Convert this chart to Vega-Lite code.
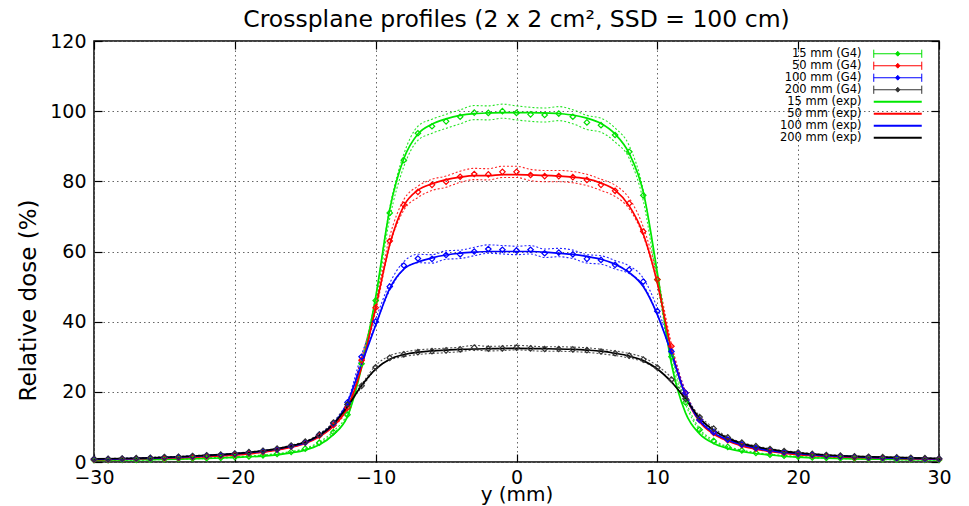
{
"$schema":"https://vega.github.io/schema/vega-lite/v6.json",
"width":845,"height":421,
"autosize":{"type":"none"},
"padding":{"left":94,"top":41,"right":30,"bottom":44},
"background":"white",
"title":{"text":"Crossplane profiles (2 x 2 cm², SSD = 100 cm)","font":"DejaVu Sans","fontSize":23.5,"fontWeight":"normal","color":"black","anchor":"middle","offset":1},
"datasets":{
"g4":[
{"s":"15 mm (G4)","x":-30,"v":0.5,"e":0.1},{"s":"15 mm (G4)","x":-29,"v":0.5,"e":0.1},{"s":"15 mm (G4)","x":-28,"v":0.6,"e":0.1},{"s":"15 mm (G4)","x":-27,"v":0.6,"e":0.1},{"s":"15 mm (G4)","x":-26,"v":0.7,"e":0.1},{"s":"15 mm (G4)","x":-25,"v":0.8,"e":0.1},{"s":"15 mm (G4)","x":-24,"v":0.9,"e":0.1},{"s":"15 mm (G4)","x":-23,"v":1.0,"e":0.1},{"s":"15 mm (G4)","x":-22,"v":1.1,"e":0.1},{"s":"15 mm (G4)","x":-21,"v":1.2,"e":0.1},{"s":"15 mm (G4)","x":-20,"v":1.4,"e":0.1},{"s":"15 mm (G4)","x":-19,"v":1.6,"e":0.1},{"s":"15 mm (G4)","x":-18,"v":1.9,"e":0.1},{"s":"15 mm (G4)","x":-17,"v":2.3,"e":0.1},{"s":"15 mm (G4)","x":-16,"v":2.9,"e":0.1},{"s":"15 mm (G4)","x":-15,"v":3.8,"e":0.1},{"s":"15 mm (G4)","x":-14,"v":5.5,"e":0.2},{"s":"15 mm (G4)","x":-13,"v":8.5,"e":0.3},{"s":"15 mm (G4)","x":-12,"v":13.5,"e":0.5},{"s":"15 mm (G4)","x":-11,"v":28,"e":0.8},{"s":"15 mm (G4)","x":-10,"v":46,"e":1.0},{"s":"15 mm (G4)","x":-9,"v":71,"e":1.5},{"s":"15 mm (G4)","x":-8,"v":86,"e":1.8},{"s":"15 mm (G4)","x":-7,"v":93.7,"e":2},{"s":"15 mm (G4)","x":-6,"v":95.7,"e":2},{"s":"15 mm (G4)","x":-5,"v":97.1,"e":2},{"s":"15 mm (G4)","x":-4,"v":98.4,"e":2},{"s":"15 mm (G4)","x":-3,"v":99.6,"e":2},{"s":"15 mm (G4)","x":-2,"v":99.5,"e":2},{"s":"15 mm (G4)","x":-1,"v":100,"e":2},{"s":"15 mm (G4)","x":0,"v":99.5,"e":2},{"s":"15 mm (G4)","x":1,"v":99.1,"e":2},{"s":"15 mm (G4)","x":2,"v":98.9,"e":2},{"s":"15 mm (G4)","x":3,"v":99.3,"e":2},{"s":"15 mm (G4)","x":4,"v":98.4,"e":2},{"s":"15 mm (G4)","x":5,"v":96.8,"e":2},{"s":"15 mm (G4)","x":6,"v":96.0,"e":2},{"s":"15 mm (G4)","x":7,"v":93.2,"e":2},{"s":"15 mm (G4)","x":8,"v":88.4,"e":1.8},{"s":"15 mm (G4)","x":9,"v":76,"e":1.5},{"s":"15 mm (G4)","x":10,"v":52,"e":1.0},{"s":"15 mm (G4)","x":11,"v":30,"e":0.8},{"s":"15 mm (G4)","x":12,"v":17,"e":0.5},{"s":"15 mm (G4)","x":13,"v":9.2,"e":0.3},{"s":"15 mm (G4)","x":14,"v":6.0,"e":0.2},{"s":"15 mm (G4)","x":15,"v":4.3,"e":0.1},{"s":"15 mm (G4)","x":16,"v":3.3,"e":0.1},{"s":"15 mm (G4)","x":17,"v":2.6,"e":0.1},{"s":"15 mm (G4)","x":18,"v":2.1,"e":0.1},{"s":"15 mm (G4)","x":19,"v":1.8,"e":0.1},{"s":"15 mm (G4)","x":20,"v":1.5,"e":0.1},{"s":"15 mm (G4)","x":21,"v":1.3,"e":0.1},{"s":"15 mm (G4)","x":22,"v":1.2,"e":0.1},{"s":"15 mm (G4)","x":23,"v":1.1,"e":0.1},{"s":"15 mm (G4)","x":24,"v":1.0,"e":0.1},{"s":"15 mm (G4)","x":25,"v":0.9,"e":0.1},{"s":"15 mm (G4)","x":26,"v":0.8,"e":0.1},{"s":"15 mm (G4)","x":27,"v":0.7,"e":0.1},{"s":"15 mm (G4)","x":28,"v":0.7,"e":0.1},{"s":"15 mm (G4)","x":29,"v":0.6,"e":0.1},{"s":"15 mm (G4)","x":30,"v":0.6,"e":0.1},
{"s":"50 mm (G4)","x":-30,"v":0.7,"e":0.1},{"s":"50 mm (G4)","x":-29,"v":0.7,"e":0.1},{"s":"50 mm (G4)","x":-28,"v":0.8,"e":0.1},{"s":"50 mm (G4)","x":-27,"v":0.9,"e":0.1},{"s":"50 mm (G4)","x":-26,"v":1.0,"e":0.1},{"s":"50 mm (G4)","x":-25,"v":1.1,"e":0.1},{"s":"50 mm (G4)","x":-24,"v":1.2,"e":0.1},{"s":"50 mm (G4)","x":-23,"v":1.4,"e":0.1},{"s":"50 mm (G4)","x":-22,"v":1.6,"e":0.1},{"s":"50 mm (G4)","x":-21,"v":1.8,"e":0.1},{"s":"50 mm (G4)","x":-20,"v":2.1,"e":0.1},{"s":"50 mm (G4)","x":-19,"v":2.5,"e":0.1},{"s":"50 mm (G4)","x":-18,"v":2.9,"e":0.1},{"s":"50 mm (G4)","x":-17,"v":3.5,"e":0.1},{"s":"50 mm (G4)","x":-16,"v":4.4,"e":0.1},{"s":"50 mm (G4)","x":-15,"v":5.5,"e":0.1},{"s":"50 mm (G4)","x":-14,"v":7.5,"e":0.2},{"s":"50 mm (G4)","x":-13,"v":10.5,"e":0.3},{"s":"50 mm (G4)","x":-12,"v":15.5,"e":0.4},{"s":"50 mm (G4)","x":-11,"v":29,"e":0.7},{"s":"50 mm (G4)","x":-10,"v":44,"e":1.0},{"s":"50 mm (G4)","x":-9,"v":63,"e":1.3},{"s":"50 mm (G4)","x":-8,"v":73.3,"e":1.5},{"s":"50 mm (G4)","x":-7,"v":77,"e":1.6},{"s":"50 mm (G4)","x":-6,"v":79,"e":1.6},{"s":"50 mm (G4)","x":-5,"v":79.9,"e":1.6},{"s":"50 mm (G4)","x":-4,"v":81.3,"e":1.6},{"s":"50 mm (G4)","x":-3,"v":82.1,"e":1.6},{"s":"50 mm (G4)","x":-2,"v":82,"e":1.6},{"s":"50 mm (G4)","x":-1,"v":82.7,"e":1.6},{"s":"50 mm (G4)","x":0,"v":82.7,"e":1.6},{"s":"50 mm (G4)","x":1,"v":81.8,"e":1.6},{"s":"50 mm (G4)","x":2,"v":81.5,"e":1.6},{"s":"50 mm (G4)","x":3,"v":81.5,"e":1.6},{"s":"50 mm (G4)","x":4,"v":81.2,"e":1.6},{"s":"50 mm (G4)","x":5,"v":80.4,"e":1.6},{"s":"50 mm (G4)","x":6,"v":79,"e":1.6},{"s":"50 mm (G4)","x":7,"v":77.3,"e":1.6},{"s":"50 mm (G4)","x":8,"v":73.7,"e":1.5},{"s":"50 mm (G4)","x":9,"v":65.7,"e":1.3},{"s":"50 mm (G4)","x":10,"v":52,"e":1.0},{"s":"50 mm (G4)","x":11,"v":33,"e":0.7},{"s":"50 mm (G4)","x":12,"v":19.7,"e":0.4},{"s":"50 mm (G4)","x":13,"v":12,"e":0.3},{"s":"50 mm (G4)","x":14,"v":8.3,"e":0.2},{"s":"50 mm (G4)","x":15,"v":6.2,"e":0.1},{"s":"50 mm (G4)","x":16,"v":4.8,"e":0.1},{"s":"50 mm (G4)","x":17,"v":3.8,"e":0.1},{"s":"50 mm (G4)","x":18,"v":3.1,"e":0.1},{"s":"50 mm (G4)","x":19,"v":2.6,"e":0.1},{"s":"50 mm (G4)","x":20,"v":2.2,"e":0.1},{"s":"50 mm (G4)","x":21,"v":1.9,"e":0.1},{"s":"50 mm (G4)","x":22,"v":1.7,"e":0.1},{"s":"50 mm (G4)","x":23,"v":1.5,"e":0.1},{"s":"50 mm (G4)","x":24,"v":1.3,"e":0.1},{"s":"50 mm (G4)","x":25,"v":1.2,"e":0.1},{"s":"50 mm (G4)","x":26,"v":1.1,"e":0.1},{"s":"50 mm (G4)","x":27,"v":1.0,"e":0.1},{"s":"50 mm (G4)","x":28,"v":0.9,"e":0.1},{"s":"50 mm (G4)","x":29,"v":0.8,"e":0.1},{"s":"50 mm (G4)","x":30,"v":0.8,"e":0.1},
{"s":"100 mm (G4)","x":-30,"v":0.8,"e":0.1},{"s":"100 mm (G4)","x":-29,"v":0.8,"e":0.1},{"s":"100 mm (G4)","x":-28,"v":0.9,"e":0.1},{"s":"100 mm (G4)","x":-27,"v":1.0,"e":0.1},{"s":"100 mm (G4)","x":-26,"v":1.1,"e":0.1},{"s":"100 mm (G4)","x":-25,"v":1.3,"e":0.1},{"s":"100 mm (G4)","x":-24,"v":1.4,"e":0.1},{"s":"100 mm (G4)","x":-23,"v":1.6,"e":0.1},{"s":"100 mm (G4)","x":-22,"v":1.8,"e":0.1},{"s":"100 mm (G4)","x":-21,"v":2.0,"e":0.1},{"s":"100 mm (G4)","x":-20,"v":2.3,"e":0.1},{"s":"100 mm (G4)","x":-19,"v":2.7,"e":0.1},{"s":"100 mm (G4)","x":-18,"v":3.1,"e":0.1},{"s":"100 mm (G4)","x":-17,"v":3.6,"e":0.1},{"s":"100 mm (G4)","x":-16,"v":4.5,"e":0.1},{"s":"100 mm (G4)","x":-15,"v":5.6,"e":0.1},{"s":"100 mm (G4)","x":-14,"v":7.8,"e":0.2},{"s":"100 mm (G4)","x":-13,"v":11,"e":0.2},{"s":"100 mm (G4)","x":-12,"v":17,"e":0.3},{"s":"100 mm (G4)","x":-11,"v":30,"e":0.6},{"s":"100 mm (G4)","x":-10,"v":40,"e":0.8},{"s":"100 mm (G4)","x":-9,"v":50,"e":1.0},{"s":"100 mm (G4)","x":-8,"v":56,"e":1.1},{"s":"100 mm (G4)","x":-7,"v":58,"e":1.2},{"s":"100 mm (G4)","x":-6,"v":57.9,"e":1.2},{"s":"100 mm (G4)","x":-5,"v":59,"e":1.2},{"s":"100 mm (G4)","x":-4,"v":59.2,"e":1.2},{"s":"100 mm (G4)","x":-3,"v":60,"e":1.2},{"s":"100 mm (G4)","x":-2,"v":60.7,"e":1.2},{"s":"100 mm (G4)","x":-1,"v":60.5,"e":1.2},{"s":"100 mm (G4)","x":0,"v":60.3,"e":1.2},{"s":"100 mm (G4)","x":1,"v":60.5,"e":1.2},{"s":"100 mm (G4)","x":2,"v":59.5,"e":1.2},{"s":"100 mm (G4)","x":3,"v":59.7,"e":1.2},{"s":"100 mm (G4)","x":4,"v":59.2,"e":1.2},{"s":"100 mm (G4)","x":5,"v":57.9,"e":1.2},{"s":"100 mm (G4)","x":6,"v":57.6,"e":1.2},{"s":"100 mm (G4)","x":7,"v":56.2,"e":1.2},{"s":"100 mm (G4)","x":8,"v":54.8,"e":1.1},{"s":"100 mm (G4)","x":9,"v":51.4,"e":1.0},{"s":"100 mm (G4)","x":10,"v":43,"e":0.9},{"s":"100 mm (G4)","x":11,"v":31.5,"e":0.6},{"s":"100 mm (G4)","x":12,"v":19.7,"e":0.4},{"s":"100 mm (G4)","x":13,"v":12,"e":0.2},{"s":"100 mm (G4)","x":14,"v":8.5,"e":0.2},{"s":"100 mm (G4)","x":15,"v":6.4,"e":0.1},{"s":"100 mm (G4)","x":16,"v":5.0,"e":0.1},{"s":"100 mm (G4)","x":17,"v":4.0,"e":0.1},{"s":"100 mm (G4)","x":18,"v":3.3,"e":0.1},{"s":"100 mm (G4)","x":19,"v":2.8,"e":0.1},{"s":"100 mm (G4)","x":20,"v":2.4,"e":0.1},{"s":"100 mm (G4)","x":21,"v":2.1,"e":0.1},{"s":"100 mm (G4)","x":22,"v":1.8,"e":0.1},{"s":"100 mm (G4)","x":23,"v":1.6,"e":0.1},{"s":"100 mm (G4)","x":24,"v":1.5,"e":0.1},{"s":"100 mm (G4)","x":25,"v":1.3,"e":0.1},{"s":"100 mm (G4)","x":26,"v":1.2,"e":0.1},{"s":"100 mm (G4)","x":27,"v":1.1,"e":0.1},{"s":"100 mm (G4)","x":28,"v":1.0,"e":0.1},{"s":"100 mm (G4)","x":29,"v":0.9,"e":0.1},{"s":"100 mm (G4)","x":30,"v":0.9,"e":0.1},
{"s":"200 mm (G4)","x":-30,"v":0.9,"e":0.1},{"s":"200 mm (G4)","x":-29,"v":0.9,"e":0.1},{"s":"200 mm (G4)","x":-28,"v":1.0,"e":0.1},{"s":"200 mm (G4)","x":-27,"v":1.1,"e":0.1},{"s":"200 mm (G4)","x":-26,"v":1.2,"e":0.1},{"s":"200 mm (G4)","x":-25,"v":1.4,"e":0.1},{"s":"200 mm (G4)","x":-24,"v":1.5,"e":0.1},{"s":"200 mm (G4)","x":-23,"v":1.7,"e":0.1},{"s":"200 mm (G4)","x":-22,"v":1.9,"e":0.1},{"s":"200 mm (G4)","x":-21,"v":2.1,"e":0.1},{"s":"200 mm (G4)","x":-20,"v":2.4,"e":0.1},{"s":"200 mm (G4)","x":-19,"v":2.8,"e":0.1},{"s":"200 mm (G4)","x":-18,"v":3.2,"e":0.1},{"s":"200 mm (G4)","x":-17,"v":3.8,"e":0.1},{"s":"200 mm (G4)","x":-16,"v":4.7,"e":0.1},{"s":"200 mm (G4)","x":-15,"v":5.8,"e":0.1},{"s":"200 mm (G4)","x":-14,"v":7.8,"e":0.2},{"s":"200 mm (G4)","x":-13,"v":11.2,"e":0.2},{"s":"200 mm (G4)","x":-12,"v":16.4,"e":0.3},{"s":"200 mm (G4)","x":-11,"v":21.7,"e":0.4},{"s":"200 mm (G4)","x":-10,"v":27,"e":0.5},{"s":"200 mm (G4)","x":-9,"v":29.7,"e":0.6},{"s":"200 mm (G4)","x":-8,"v":30.7,"e":0.65},{"s":"200 mm (G4)","x":-7,"v":31.3,"e":0.65},{"s":"200 mm (G4)","x":-6,"v":31.6,"e":0.65},{"s":"200 mm (G4)","x":-5,"v":31.8,"e":0.65},{"s":"200 mm (G4)","x":-4,"v":32.1,"e":0.65},{"s":"200 mm (G4)","x":-3,"v":32.6,"e":0.65},{"s":"200 mm (G4)","x":-2,"v":32.3,"e":0.65},{"s":"200 mm (G4)","x":-1,"v":32.4,"e":0.65},{"s":"200 mm (G4)","x":0,"v":32.6,"e":0.65},{"s":"200 mm (G4)","x":1,"v":32.4,"e":0.65},{"s":"200 mm (G4)","x":2,"v":32.2,"e":0.65},{"s":"200 mm (G4)","x":3,"v":32.2,"e":0.65},{"s":"200 mm (G4)","x":4,"v":32.1,"e":0.65},{"s":"200 mm (G4)","x":5,"v":31.9,"e":0.65},{"s":"200 mm (G4)","x":6,"v":31.5,"e":0.65},{"s":"200 mm (G4)","x":7,"v":31.0,"e":0.65},{"s":"200 mm (G4)","x":8,"v":30.3,"e":0.65},{"s":"200 mm (G4)","x":9,"v":29.2,"e":0.6},{"s":"200 mm (G4)","x":10,"v":26.9,"e":0.5},{"s":"200 mm (G4)","x":11,"v":23.5,"e":0.5},{"s":"200 mm (G4)","x":12,"v":18,"e":0.4},{"s":"200 mm (G4)","x":13,"v":12.8,"e":0.3},{"s":"200 mm (G4)","x":14,"v":9.5,"e":0.2},{"s":"200 mm (G4)","x":15,"v":7.0,"e":0.1},{"s":"200 mm (G4)","x":16,"v":5.5,"e":0.1},{"s":"200 mm (G4)","x":17,"v":4.5,"e":0.1},{"s":"200 mm (G4)","x":18,"v":3.7,"e":0.1},{"s":"200 mm (G4)","x":19,"v":3.1,"e":0.1},{"s":"200 mm (G4)","x":20,"v":2.7,"e":0.1},{"s":"200 mm (G4)","x":21,"v":2.3,"e":0.1},{"s":"200 mm (G4)","x":22,"v":2.0,"e":0.1},{"s":"200 mm (G4)","x":23,"v":1.8,"e":0.1},{"s":"200 mm (G4)","x":24,"v":1.6,"e":0.1},{"s":"200 mm (G4)","x":25,"v":1.5,"e":0.1},{"s":"200 mm (G4)","x":26,"v":1.4,"e":0.1},{"s":"200 mm (G4)","x":27,"v":1.3,"e":0.1},{"s":"200 mm (G4)","x":28,"v":1.2,"e":0.1},{"s":"200 mm (G4)","x":29,"v":1.1,"e":0.1},{"s":"200 mm (G4)","x":30,"v":1.0,"e":0.1}
],
"exp":[
{"s":"15 mm (exp)","x":-30,"v":0.5},{"s":"15 mm (exp)","x":-28,"v":0.6},{"s":"15 mm (exp)","x":-26,"v":0.7},{"s":"15 mm (exp)","x":-24,"v":0.8},{"s":"15 mm (exp)","x":-22,"v":1.0},{"s":"15 mm (exp)","x":-20,"v":1.3},{"s":"15 mm (exp)","x":-18,"v":1.7},{"s":"15 mm (exp)","x":-16,"v":2.6},{"s":"15 mm (exp)","x":-15,"v":3.4},{"s":"15 mm (exp)","x":-14,"v":4.9},{"s":"15 mm (exp)","x":-13,"v":7.8},{"s":"15 mm (exp)","x":-12,"v":13},{"s":"15 mm (exp)","x":-11,"v":27},{"s":"15 mm (exp)","x":-10,"v":47},{"s":"15 mm (exp)","x":-9,"v":72},{"s":"15 mm (exp)","x":-8,"v":86.5},{"s":"15 mm (exp)","x":-7,"v":93.5},{"s":"15 mm (exp)","x":-6,"v":96.3},{"s":"15 mm (exp)","x":-5,"v":97.8},{"s":"15 mm (exp)","x":-4,"v":98.8},{"s":"15 mm (exp)","x":-3,"v":99.3},{"s":"15 mm (exp)","x":-2,"v":99.5},{"s":"15 mm (exp)","x":-1,"v":99.6},{"s":"15 mm (exp)","x":0,"v":99.6},{"s":"15 mm (exp)","x":1,"v":99.6},{"s":"15 mm (exp)","x":2,"v":99.5},{"s":"15 mm (exp)","x":3,"v":99.3},{"s":"15 mm (exp)","x":4,"v":98.9},{"s":"15 mm (exp)","x":5,"v":98},{"s":"15 mm (exp)","x":6,"v":96.5},{"s":"15 mm (exp)","x":7,"v":93.5},{"s":"15 mm (exp)","x":8,"v":88},{"s":"15 mm (exp)","x":9,"v":77},{"s":"15 mm (exp)","x":10,"v":54},{"s":"15 mm (exp)","x":11,"v":28},{"s":"15 mm (exp)","x":12,"v":14},{"s":"15 mm (exp)","x":13,"v":8},{"s":"15 mm (exp)","x":14,"v":5.3},{"s":"15 mm (exp)","x":15,"v":3.9},{"s":"15 mm (exp)","x":16,"v":3.0},{"s":"15 mm (exp)","x":18,"v":2.0},{"s":"15 mm (exp)","x":20,"v":1.4},{"s":"15 mm (exp)","x":22,"v":1.1},{"s":"15 mm (exp)","x":24,"v":0.9},{"s":"15 mm (exp)","x":26,"v":0.8},{"s":"15 mm (exp)","x":28,"v":0.7},{"s":"15 mm (exp)","x":30,"v":0.6},
{"s":"50 mm (exp)","x":-30,"v":0.7},{"s":"50 mm (exp)","x":-28,"v":0.8},{"s":"50 mm (exp)","x":-26,"v":1.0},{"s":"50 mm (exp)","x":-24,"v":1.2},{"s":"50 mm (exp)","x":-22,"v":1.5},{"s":"50 mm (exp)","x":-20,"v":2.0},{"s":"50 mm (exp)","x":-18,"v":2.8},{"s":"50 mm (exp)","x":-16,"v":4.2},{"s":"50 mm (exp)","x":-15,"v":5.3},{"s":"50 mm (exp)","x":-14,"v":7.2},{"s":"50 mm (exp)","x":-13,"v":10.2},{"s":"50 mm (exp)","x":-12,"v":15.5},{"s":"50 mm (exp)","x":-11,"v":27},{"s":"50 mm (exp)","x":-10,"v":44},{"s":"50 mm (exp)","x":-9,"v":62},{"s":"50 mm (exp)","x":-8,"v":73},{"s":"50 mm (exp)","x":-7,"v":77.5},{"s":"50 mm (exp)","x":-6,"v":79.3},{"s":"50 mm (exp)","x":-5,"v":80.5},{"s":"50 mm (exp)","x":-4,"v":81.2},{"s":"50 mm (exp)","x":-3,"v":81.6},{"s":"50 mm (exp)","x":-2,"v":81.6},{"s":"50 mm (exp)","x":-1,"v":81.9},{"s":"50 mm (exp)","x":0,"v":81.9},{"s":"50 mm (exp)","x":1,"v":81.8},{"s":"50 mm (exp)","x":2,"v":81.7},{"s":"50 mm (exp)","x":3,"v":81.5},{"s":"50 mm (exp)","x":4,"v":81.2},{"s":"50 mm (exp)","x":5,"v":80.7},{"s":"50 mm (exp)","x":6,"v":79.5},{"s":"50 mm (exp)","x":7,"v":77.5},{"s":"50 mm (exp)","x":8,"v":73},{"s":"50 mm (exp)","x":9,"v":65},{"s":"50 mm (exp)","x":10,"v":51},{"s":"50 mm (exp)","x":11,"v":32},{"s":"50 mm (exp)","x":12,"v":19},{"s":"50 mm (exp)","x":13,"v":11.5},{"s":"50 mm (exp)","x":14,"v":8},{"s":"50 mm (exp)","x":15,"v":6},{"s":"50 mm (exp)","x":16,"v":4.6},{"s":"50 mm (exp)","x":18,"v":3.0},{"s":"50 mm (exp)","x":20,"v":2.1},{"s":"50 mm (exp)","x":22,"v":1.6},{"s":"50 mm (exp)","x":24,"v":1.3},{"s":"50 mm (exp)","x":26,"v":1.1},{"s":"50 mm (exp)","x":28,"v":0.9},{"s":"50 mm (exp)","x":30,"v":0.8},
{"s":"100 mm (exp)","x":-30,"v":0.8},{"s":"100 mm (exp)","x":-28,"v":0.9},{"s":"100 mm (exp)","x":-26,"v":1.1},{"s":"100 mm (exp)","x":-24,"v":1.4},{"s":"100 mm (exp)","x":-22,"v":1.8},{"s":"100 mm (exp)","x":-20,"v":2.3},{"s":"100 mm (exp)","x":-18,"v":3.1},{"s":"100 mm (exp)","x":-16,"v":4.5},{"s":"100 mm (exp)","x":-15,"v":5.5},{"s":"100 mm (exp)","x":-14,"v":7.6},{"s":"100 mm (exp)","x":-13,"v":10.8},{"s":"100 mm (exp)","x":-12,"v":17},{"s":"100 mm (exp)","x":-11,"v":28},{"s":"100 mm (exp)","x":-10,"v":39},{"s":"100 mm (exp)","x":-9,"v":49.5},{"s":"100 mm (exp)","x":-8,"v":55},{"s":"100 mm (exp)","x":-7,"v":57},{"s":"100 mm (exp)","x":-6,"v":58.2},{"s":"100 mm (exp)","x":-5,"v":59},{"s":"100 mm (exp)","x":-4,"v":59.5},{"s":"100 mm (exp)","x":-3,"v":59.8},{"s":"100 mm (exp)","x":-2,"v":60},{"s":"100 mm (exp)","x":-1,"v":60},{"s":"100 mm (exp)","x":0,"v":60},{"s":"100 mm (exp)","x":1,"v":60},{"s":"100 mm (exp)","x":2,"v":59.8},{"s":"100 mm (exp)","x":3,"v":59.5},{"s":"100 mm (exp)","x":4,"v":59.2},{"s":"100 mm (exp)","x":5,"v":58.6},{"s":"100 mm (exp)","x":6,"v":57.8},{"s":"100 mm (exp)","x":7,"v":56.4},{"s":"100 mm (exp)","x":8,"v":54},{"s":"100 mm (exp)","x":9,"v":50},{"s":"100 mm (exp)","x":10,"v":42},{"s":"100 mm (exp)","x":11,"v":31},{"s":"100 mm (exp)","x":12,"v":19},{"s":"100 mm (exp)","x":13,"v":11.8},{"s":"100 mm (exp)","x":14,"v":8.3},{"s":"100 mm (exp)","x":15,"v":6.3},{"s":"100 mm (exp)","x":16,"v":4.9},{"s":"100 mm (exp)","x":18,"v":3.2},{"s":"100 mm (exp)","x":20,"v":2.4},{"s":"100 mm (exp)","x":22,"v":1.8},{"s":"100 mm (exp)","x":24,"v":1.5},{"s":"100 mm (exp)","x":26,"v":1.2},{"s":"100 mm (exp)","x":28,"v":1.0},{"s":"100 mm (exp)","x":30,"v":0.9},
{"s":"200 mm (exp)","x":-30,"v":0.9},{"s":"200 mm (exp)","x":-28,"v":1.0},{"s":"200 mm (exp)","x":-26,"v":1.2},{"s":"200 mm (exp)","x":-24,"v":1.5},{"s":"200 mm (exp)","x":-22,"v":1.9},{"s":"200 mm (exp)","x":-20,"v":2.4},{"s":"200 mm (exp)","x":-18,"v":3.2},{"s":"200 mm (exp)","x":-16,"v":4.6},{"s":"200 mm (exp)","x":-15,"v":5.7},{"s":"200 mm (exp)","x":-14,"v":7.6},{"s":"200 mm (exp)","x":-13,"v":10.8},{"s":"200 mm (exp)","x":-12,"v":15.8},{"s":"200 mm (exp)","x":-11,"v":21.8},{"s":"200 mm (exp)","x":-10,"v":26.5},{"s":"200 mm (exp)","x":-9,"v":29.3},{"s":"200 mm (exp)","x":-8,"v":30.6},{"s":"200 mm (exp)","x":-7,"v":31.3},{"s":"200 mm (exp)","x":-6,"v":31.7},{"s":"200 mm (exp)","x":-5,"v":31.9},{"s":"200 mm (exp)","x":-4,"v":32.1},{"s":"200 mm (exp)","x":-2,"v":32.3},{"s":"200 mm (exp)","x":0,"v":32.4},{"s":"200 mm (exp)","x":2,"v":32.3},{"s":"200 mm (exp)","x":4,"v":32.1},{"s":"200 mm (exp)","x":5,"v":31.9},{"s":"200 mm (exp)","x":6,"v":31.6},{"s":"200 mm (exp)","x":7,"v":31},{"s":"200 mm (exp)","x":8,"v":30.2},{"s":"200 mm (exp)","x":9,"v":28.9},{"s":"200 mm (exp)","x":10,"v":26.5},{"s":"200 mm (exp)","x":11,"v":22.8},{"s":"200 mm (exp)","x":12,"v":18},{"s":"200 mm (exp)","x":13,"v":12.5},{"s":"200 mm (exp)","x":14,"v":9},{"s":"200 mm (exp)","x":15,"v":6.8},{"s":"200 mm (exp)","x":16,"v":5.3},{"s":"200 mm (exp)","x":18,"v":3.6},{"s":"200 mm (exp)","x":20,"v":2.6},{"s":"200 mm (exp)","x":22,"v":2.0},{"s":"200 mm (exp)","x":24,"v":1.6},{"s":"200 mm (exp)","x":26,"v":1.4},{"s":"200 mm (exp)","x":28,"v":1.2},{"s":"200 mm (exp)","x":30,"v":1.0}
]
},
"config":{
"view":{"stroke":"black","strokeWidth":1.5},
"axis":{"domain":false,"gridColor":"#666666","gridDash":[1.5,3],"gridWidth":1,"gridOpacity":1,"tickColor":"black","tickWidth":1.2,"labelFlush":false,"labelFont":"DejaVu Sans","labelFontSize":19,"labelColor":"black","titleFont":"DejaVu Sans","titleFontWeight":"normal","titleFontSize":22,"titleColor":"black"},
"legend":{"orient":"none","legendX":798,"legendY":7,"title":null,"labelFont":"DejaVu Sans","labelFontSize":11.5,"labelColor":"black","labelAlign":"right","labelOffset":-42,"symbolSize":2304,"rowPadding":-2,"padding":0}
},
"resolve":{"axis":{"x":"independent","y":"independent"}},
"layer":[
{"data":{"name":"g4"},
 "mark":{"type":"errorband","interpolate":"monotone","band":{"opacity":0},"borders":{"strokeDash":[2,2],"strokeWidth":1.1,"opacity":0.85}},
 "encoding":{
  "x":{"field":"x","type":"quantitative","scale":{"domain":[-30,30],"nice":false,"zero":false},"axis":{"orient":"bottom","values":[-30,-20,-10,0,10,20,30],"title":"y (mm)","titleFontSize":20,"grid":true,"tickSize":-8,"labelPadding":14,"titlePadding":-3}},
  "y":{"field":"v","type":"quantitative","scale":{"domain":[0,120],"nice":false},"axis":{"orient":"left","values":[0,20,40,60,80,100,120],"title":"Relative dose (%)","titleFontSize":23,"titleY":259,"grid":true,"tickSize":-8,"labelPadding":16,"titlePadding":9}},
  "yError":{"field":"e"},
  "color":{"field":"s","type":"nominal","scale":{"domain":["15 mm (G4)","50 mm (G4)","100 mm (G4)","200 mm (G4)","15 mm (exp)","50 mm (exp)","100 mm (exp)","200 mm (exp)"],"range":["#00e000","#ff0000","#0000ff","#333333","#00e800","#ff0000","#0000ff","#000000"]},
   "legend":{"encode":{"symbols":{"update":{"shape":{"signal":"test(/G4/, datum.value) ? 'M-1,0H1M-1,-0.17V0.17M1,-0.17V0.17M-0.09,0L0,-0.1L0.09,0L0,0.1Z' : 'stroke'"},"stroke":{"scale":"color","field":"value"},"fill":{"value":"transparent"},"opacity":{"value":1},"strokeWidth":{"signal":"test(/G4/, datum.value) ? 1 : 1.8"}}}}}}}
},
{"data":{"name":"exp"},
 "mark":{"type":"line","interpolate":"monotone","strokeWidth":1.7},
 "encoding":{
  "x":{"field":"x","type":"quantitative","axis":null},
  "y":{"field":"v","type":"quantitative","axis":null},
  "color":{"field":"s","type":"nominal"}}
},
{"data":{"name":"g4"},
 "mark":{"type":"point","shape":"diamond","filled":false,"size":30,"strokeWidth":1.2,"opacity":1},
 "encoding":{
  "x":{"field":"x","type":"quantitative","axis":{"orient":"top","values":[-30,-20,-10,0,10,20,30],"labels":false,"title":null,"grid":false,"tickSize":-8}},
  "y":{"field":"v","type":"quantitative","axis":{"orient":"right","values":[0,20,40,60,80,100,120],"labels":false,"title":null,"grid":false,"tickSize":-8}},
  "color":{"field":"s","type":"nominal"}}
}
]
}
